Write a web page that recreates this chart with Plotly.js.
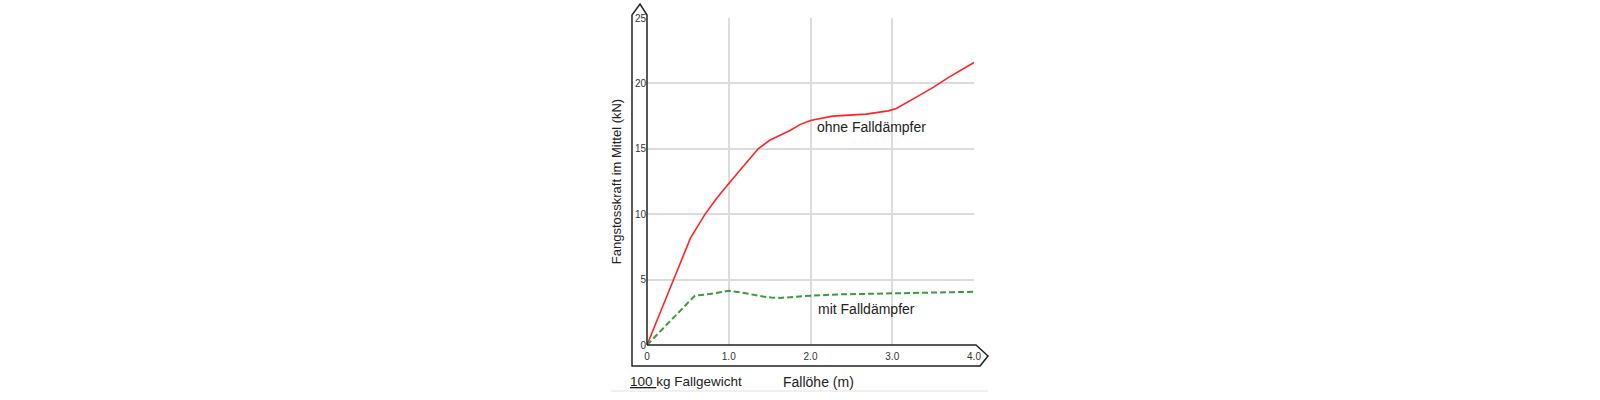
<!DOCTYPE html>
<html>
<head>
<meta charset="utf-8">
<script src="https://cdn.plot.ly/plotly-3.0.1.min.js"></script>
<style>html,body{margin:0;padding:0;background:#fff;}#chart{width:1600px;height:400px;}</style>
</head>
<body>
<div id="chart"></div>
<script>
// Data
const ohneX = [0, 0.32, 0.53, 0.705, 0.85, 1.0, 1.22, 1.36, 1.5, 1.75, 1.87, 2.0, 2.27, 2.68, 2.95, 3.05, 3.3, 3.5, 3.7, 4.0];
const ohneY = [0, 5.0, 8.15, 9.95, 11.2, 12.35, 13.93, 15.0, 15.65, 16.4, 16.85, 17.16, 17.5, 17.65, 17.9, 18.08, 18.97, 19.7, 20.5, 21.6];
const mitX = [0, 0.585, 0.77, 0.88, 1.0, 1.17, 1.3, 1.42, 1.52, 1.63, 1.8, 2.0, 2.36, 2.97, 4.0];
const mitY = [0, 3.77, 3.9, 4.03, 4.15, 4.0, 3.83, 3.7, 3.63, 3.6, 3.68, 3.77, 3.87, 3.95, 4.07];
const xTickVals = [0, 1, 2, 3, 4];
const xTickText = ['0', '1.0', '2.0', '3.0', '4.0'];
const yTickVals = [0, 5, 10, 15, 20, 25];
const labelOhne = 'ohne Falldämpfer';
const labelMit = 'mit Falldämpfer';
const xTitle = 'Fallöhe (m)';
const yTitle = 'Fangstosskraft im Mittel (kN)';

const W = 1600, H = 400;
const L = 647, R = 626, T = 18, B = 55;
const pw = W - L - R, ph = H - T - B;
function px(X) { return (X - L) / pw; }
function py(Y) { return (H - B - Y) / ph; }
function pathPx(pts) {
  return pts.map((p, i) => (i ? 'L' : 'M') + px(p[0]).toFixed(4) + ',' + py(p[1]).toFixed(4)).join(' ');
}

const font = 'Liberation Sans, Arial, sans-serif';

const traces = [
  { x: ohneX, y: ohneY, mode: 'lines', name: labelOhne,
    line: { color: '#ff2424', width: 1.6 }, hoverinfo: 'x+y' },
  { x: mitX, y: mitY, mode: 'lines', name: labelMit,
    line: { color: '#3b9b3b', width: 2, dash: '6px,3px' }, hoverinfo: 'x+y' }
];

const outline = pathPx([[647, 345], [647, 15], [640, 4], [632, 15], [632, 366], [980, 366], [988, 356], [976, 345], [647, 345]]);

const layout = {
  width: W, height: H,
  margin: { l: L, r: R, t: T, b: B, pad: 0 },
  paper_bgcolor: '#fff', plot_bgcolor: '#fff',
  showlegend: false,
  font: { family: font, color: '#222' },
  xaxis: {
    range: [0, 4], tickvals: xTickVals, ticktext: xTickText,
    showgrid: true, gridcolor: '#dcdcdc', gridwidth: 1.5,
    zeroline: false, showline: false, ticks: '',
    ticklabelstandoff: 4,
    tickfont: { size: 10, color: '#333' },
    fixedrange: true
  },
  yaxis: {
    range: [0, 25], tickvals: yTickVals,
    showgrid: true, gridcolor: '#dcdcdc', gridwidth: 1.5,
    zeroline: false, showline: false, ticks: '',
    tickfont: { size: 10, color: '#333' },
    title: { text: yTitle, font: { size: 13, color: '#222' }, standoff: 10 },
    fixedrange: true
  },
  shapes: [
    { type: 'path', xref: 'paper', yref: 'paper', path: outline,
      line: { color: '#222', width: 1.5 }, fillcolor: 'rgba(0,0,0,0)', layer: 'above' },
    { type: 'line', xref: 'paper', yref: 'paper', x0: px(611), x1: px(988), y0: py(391), y1: py(391),
      line: { color: '#e2e2e2', width: 1 } }
  ],
  annotations: [
    { xref: 'x', yref: 'y', x: 2.05, y: 16.7, xanchor: 'left', yanchor: 'middle', showarrow: false,
      text: labelOhne, font: { size: 14, color: '#222' } },
    { xref: 'x', yref: 'y', x: 2.07, y: 2.75, xanchor: 'left', yanchor: 'middle', showarrow: false,
      text: labelMit, font: { size: 14, color: '#222' } },
    { xref: 'paper', yref: 'paper', x: px(818), y: py(382), xanchor: 'center', yanchor: 'middle', showarrow: false,
      text: xTitle, font: { size: 14, color: '#222' } },
    { xref: 'paper', yref: 'paper', x: px(628), y: py(381), xanchor: 'left', yanchor: 'middle', showarrow: false,
      text: '<u>100 </u>kg Fallgewicht', font: { size: 13.5, color: '#222' } }
  ]
};

Plotly.newPlot('chart', traces, layout, { displayModeBar: false });
</script>
</body>
</html>
